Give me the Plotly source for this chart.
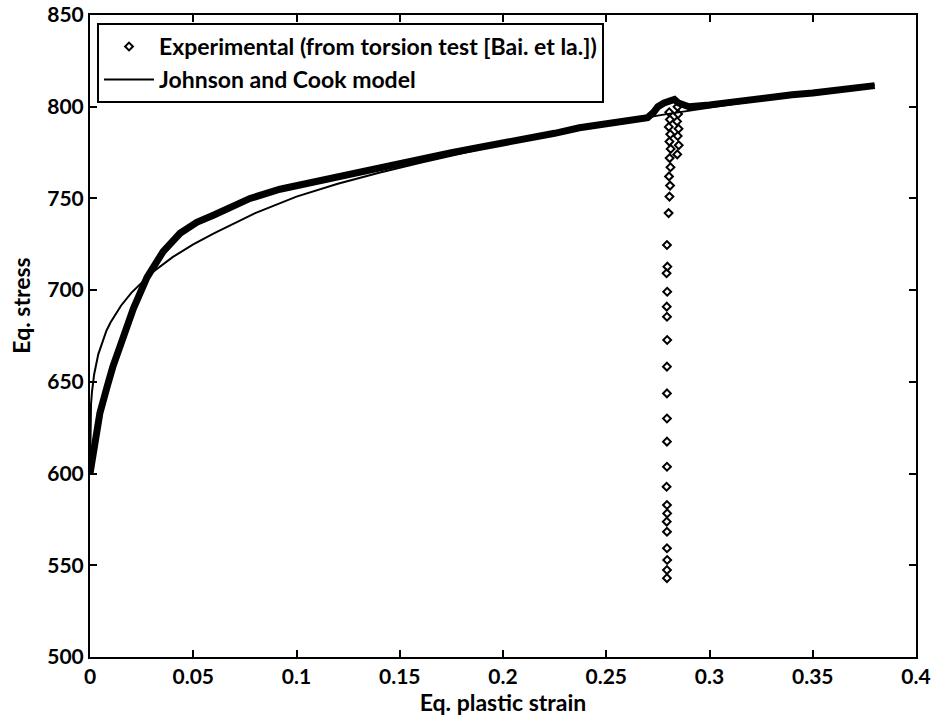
import plotly.graph_objects as go

# Experimental curve (torsion test)
exp_strain = [0.0, 0.002, 0.0048, 0.0082, 0.011, 0.016, 0.021, 0.0276, 0.0354, 0.0436,
              0.0517, 0.06, 0.068, 0.0775, 0.092, 0.1, 0.112, 0.125, 0.137, 0.15,
              0.162, 0.175, 0.187, 0.2, 0.212, 0.225, 0.237, 0.25, 0.26, 0.265,
              0.27, 0.273, 0.275, 0.278, 0.28, 0.283, 0.285, 0.29, 0.3, 0.31,
              0.325, 0.34, 0.35, 0.365, 0.38]
exp_stress = [600, 616, 633, 647, 658, 674, 690, 707, 721, 731,
              737, 741, 745, 750, 755, 757, 760, 763, 766, 769.5,
              772, 775, 777.5, 780, 783, 785.5, 788.5, 791, 792.5, 793,
              794, 797, 800, 802, 803, 804, 802, 800, 801, 802.5,
              804.5, 806.5, 807.5, 809.5, 811.5]

# Experimental points after the drop (around strain 0.28)
drop_strain = [0.2805, 0.2808, 0.2803, 0.2810, 0.2806, 0.2812, 0.2807, 0.2811, 0.2804, 0.2809,
               0.2806, 0.2802, 0.2845, 0.2848, 0.2843, 0.2850, 0.2846, 0.2851, 0.2844,
               0.2794, 0.2796, 0.2792, 0.2795, 0.2793, 0.2794, 0.2795, 0.2794, 0.2794, 0.2794,
               0.2794, 0.2794, 0.2792, 0.2794, 0.2795, 0.2793, 0.2794, 0.2794, 0.2795, 0.2794,
               0.2794]
drop_stress = [797, 793, 789, 785, 781, 777, 772, 767, 762, 757,
               751, 742, 800, 796, 792, 788, 784, 779, 774,
               724.6, 712.8, 709.2, 699.1, 691, 685.5, 672.8, 658.3, 643.7, 630,
               617.4, 603.7, 592.8, 582.9, 578.3, 573.8, 568.3, 559.3, 552.9, 547.4,
               543]

# Johnson and Cook model curve
jc_strain = [0.0, 0.0005, 0.001, 0.002, 0.004, 0.006, 0.008, 0.01, 0.015, 0.02,
             0.0276, 0.03, 0.04, 0.05, 0.06, 0.07, 0.08, 0.09, 0.1, 0.12,
             0.14, 0.16, 0.18, 0.2, 0.22, 0.24, 0.26, 0.28, 0.3, 0.32,
             0.34, 0.36, 0.38]
jc_stress = [600, 638, 645, 654, 665, 672, 678, 682.5, 691.5, 698.5,
             707, 709.5, 718, 725, 731, 736.5, 742, 746.5, 751, 758,
             764, 769.5, 774.8, 779.7, 784.2, 788.4, 792.3, 796.1, 799.6, 803,
             806.2, 809.3, 812]

x_ticks = [0, 0.05, 0.1, 0.15, 0.2, 0.25, 0.3, 0.35, 0.4]
y_ticks = [500, 550, 600, 650, 700, 750, 800, 850]

FONT = "Lato"

fig = go.Figure()

fig.add_trace(go.Scatter(
    x=exp_strain, y=exp_stress, mode="lines",
    line=dict(color="black", width=7),
    legendgroup="exp", showlegend=False, hoverinfo="skip",
))
fig.add_trace(go.Scatter(
    x=drop_strain, y=drop_stress, mode="markers",
    marker=dict(symbol="diamond-open", size=6, color="black", line=dict(width=2)),
    name="Experimental (from torsion test [Bai. et la.])",
    legendgroup="exp",
))
fig.add_trace(go.Scatter(
    x=jc_strain, y=jc_stress, mode="lines",
    line=dict(color="black", width=2),
    name="Johnson and Cook model",
))

axis_common = dict(
    showline=True, linecolor="black", linewidth=2, mirror="ticks",
    ticks="inside", ticklen=7, tickwidth=2, tickcolor="black",
    showgrid=False, zeroline=False, automargin=False,
    ticklabeloverflow="allow",
    tickfont=dict(family=FONT, size=21, color="black", weight="bold"),
)

fig.update_layout(
    width=937, height=717,
    margin=dict(l=90, r=21, t=15, b=60),
    paper_bgcolor="white", plot_bgcolor="white",
    font=dict(family=FONT, color="black"),
    legend=dict(
        x=0.0085, y=0.9875, xanchor="left", yanchor="top",
        bordercolor="black", borderwidth=2, bgcolor="white",
        font=dict(family=FONT, size=23, color="black", weight="bold"),
        itemwidth=50, tracegroupgap=0,
    ),
    xaxis=dict(
        range=[0, 0.4], tickvals=x_ticks,
        ticktext=[("%g" % v) for v in x_ticks],
        title=dict(text="Eq. plastic strain", standoff=4,
                   font=dict(family=FONT, size=23, color="black", weight="bold")),
        **axis_common,
    ),
    yaxis=dict(
        range=[500, 850], tickvals=y_ticks,
        **axis_common,
    ),
    annotations=[dict(
        text="Eq. stress", textangle=-90, showarrow=False,
        xref="paper", yref="paper", x=-0.083, y=0.548,
        xanchor="center", yanchor="middle",
        font=dict(family=FONT, size=23, color="black", weight="bold"),
    )],
)

fig.write_html("out.html", config={"displayModeBar": False},
               post_script="document.body.style.margin='0';")
